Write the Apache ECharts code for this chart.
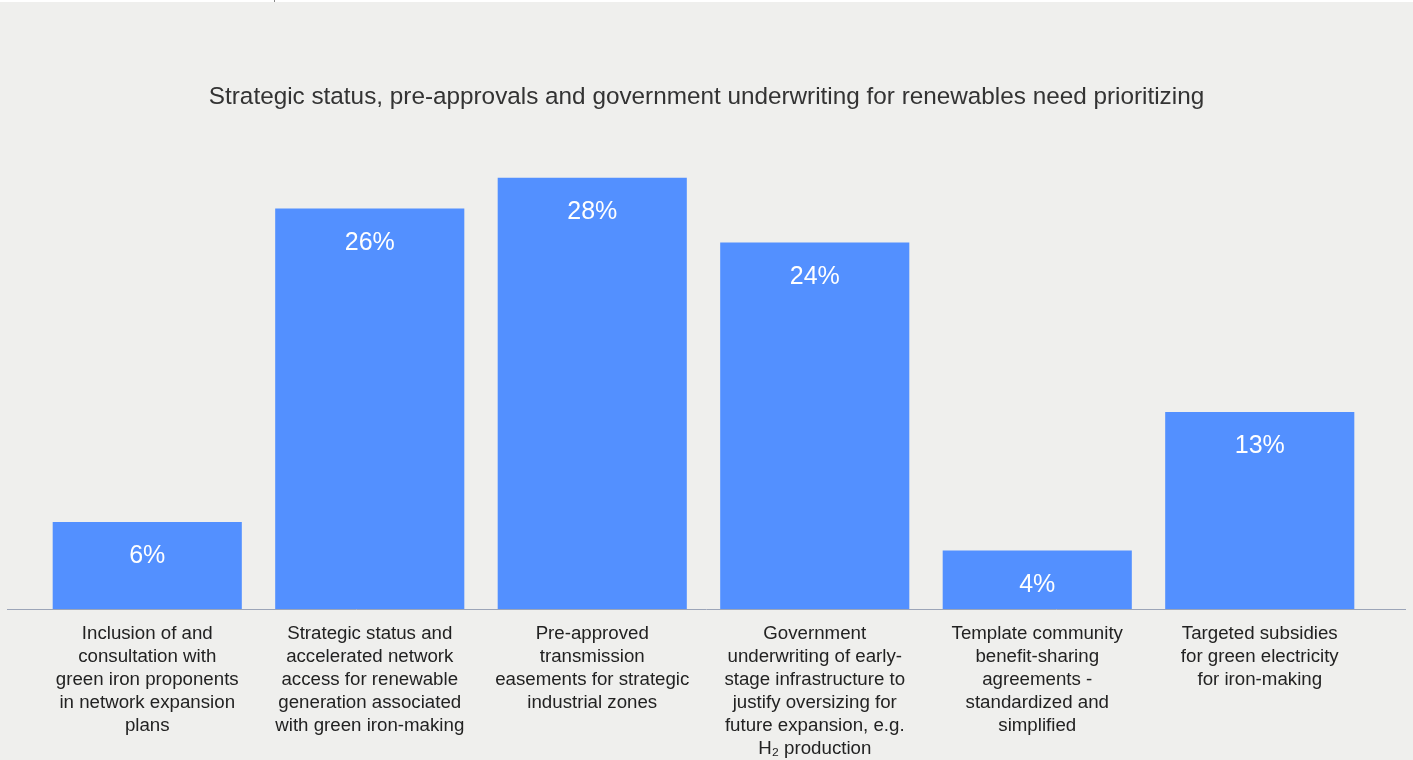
<!DOCTYPE html>
<html>
<head>
<meta charset="utf-8">
<script src="https://cdn.jsdelivr.net/npm/echarts@6/dist/echarts.min.js"></script>
<style>
html,body{margin:0;padding:0;background:#efefed;}
#c{width:1413px;height:760px;}
</style>
</head>
<body>
<div id="c"></div>
<script>
const title = "Strategic status, pre-approvals and government underwriting for renewables need prioritizing";
const categories = [
  "Inclusion of and\nconsultation with\ngreen iron proponents\nin network expansion\nplans",
  "Strategic status and\naccelerated network\naccess for renewable\ngeneration associated\nwith green iron-making",
  "Pre-approved\ntransmission\neasements for strategic\nindustrial zones",
  "Government\nunderwriting of early-\nstage infrastructure to\njustify oversizing for\nfuture expansion, e.g.\nH₂ production",
  "Template community\nbenefit-sharing\nagreements -\nstandardized and\nsimplified",
  "Targeted subsidies\nfor green electricity\nfor iron-making"
];
const values = [5.65, 26, 28, 23.8, 3.8, 12.8];
const valueLabels = ["6%", "26%", "28%", "24%", "4%", "13%"];

const chart = echarts.init(document.getElementById('c'));
const font = '"Liberation Sans", Arial, Helvetica, sans-serif';
chart.setOption({
  backgroundColor: '#efefed',
  animation: false,
  title: {
    text: title, left: 'center', top: 80,
    textStyle: {fontFamily: font, fontSize: 24.3, fontWeight: 'normal', color: '#333333'}
  },
  grid: {left: 36, right: 42, top: 147, bottom: 151},
  xAxis: {
    type: 'category', data: categories,
    axisLine: {show: false}, axisTick: {show: false},
    axisLabel: {interval: 0, margin: 13, lineHeight: 23, fontSize: 18.7, color: '#222222', fontFamily: font}
  },
  yAxis: {type: 'value', min: 0, max: 30, show: false, splitLine: {show: false}},
  series: [{
    type: 'bar', data: values, barCategoryGap: '15%',
    itemStyle: {color: '#5390ff'},
    label: {
      show: true, position: 'insideTop', distance: 22,
      formatter: p => valueLabels[p.dataIndex],
      color: '#ffffff', fontSize: 25, fontFamily: font
    }
  }],
  graphic: [
    {type: 'rect', shape: {x: 0, y: 0, width: 1413, height: 2}, style: {fill: '#ffffff'}, silent: true},
    {type: 'rect', shape: {x: 274, y: 0, width: 1, height: 2}, style: {fill: '#888888'}, silent: true},
    {type: 'line', shape: {x1: 7, y1: 609.5, x2: 1406, y2: 609.5}, style: {stroke: '#9ca5b8', lineWidth: 1}, silent: true, z: 10}
  ]
});
</script>
</body>
</html>
